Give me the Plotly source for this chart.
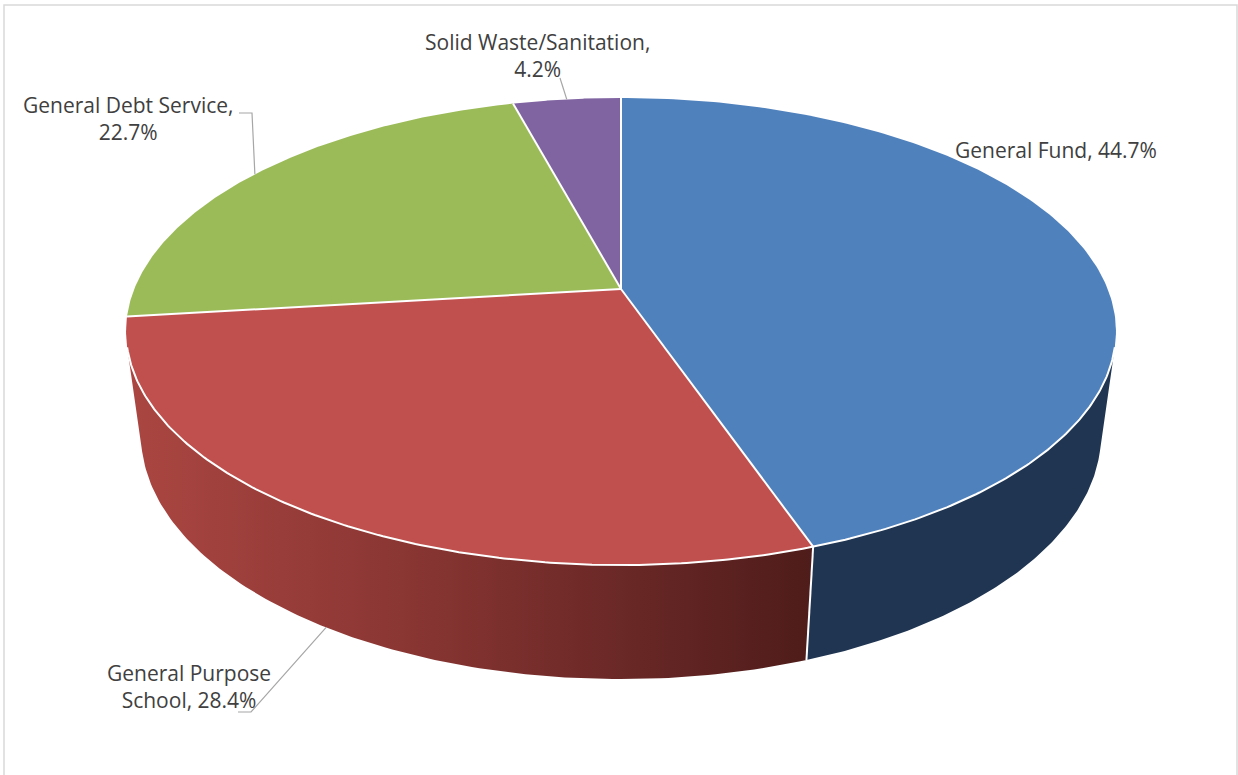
import numpy as np
import plotly.graph_objects as go

# ---------------- data ----------------
categories = ["General Fund", "General Purpose School", "General Debt Service", "Solid Waste/Sanitation"]
values = [44.7, 28.4, 22.7, 4.2]
label_breaks = ["General Fund, ", "General Purpose<br>School, ", "General Debt Service,<br>", "Solid Waste/Sanitation,<br>"]

# ---------------- style ----------------
top_colors = ["#4F81BD", "#C0504D", "#9BBB59", "#8064A2"]
side_scales = [
    [[0, "#1F3552"], [1, "#1E314D"]],
    [[0, "#AB4642"], [0.4, "#8A3633"], [0.7, "#6C2927"], [1, "#4E1C1A"]],
    [[0, "#6F8A3E"], [1, "#3E4F22"]],
    [[0, "#5C4777"], [1, "#35284A"]],
]
label_pos = [(1056, 150), (189, 686), (128, 118), (537, 55)]
leader_knee = [None, [(238, 712), (251, 712)], [(239, 113), (252, 113)], [(560, 78)]]
leader_level = [0, 1, 0, 0]
FONT = "Open Sans"
FONT_SIZE = 21
TEXT_COLOR = "#404040"

# perspective geometry of the 3-D pie (pixel space)
CX, CY = 621.0, 289.0
G, P, K, D, E = 486.7, 225.8, 0.182, -0.03, 105.0


def proj(phi_deg, level=0.0):
    phi = np.radians(phi_deg)
    x, z = np.sin(phi), np.cos(phi)
    w = 1 + K * z - D * level
    return CX + G * x / w, CY + (-P * z + E * level) / w


# visible range of the rim
zc = -E / (K * E - D * P)
vis_lo = np.degrees(np.arccos(1 / zc))
vis_hi = 360 - vis_lo

total = sum(values)
bounds = np.concatenate([[0], np.cumsum(values) / total * 360])

fig = go.Figure()

# ---- sides (rim) ----
for i in range(len(values)):
    a, b = max(bounds[i], vis_lo), min(bounds[i + 1], vis_hi)
    if b <= a:
        continue
    ph = np.linspace(a, b, 120)
    tx, ty = proj(ph, 0)
    bx, by = proj(ph[::-1], 1)
    xs = np.concatenate([tx, bx, tx[:1]])
    ys = np.concatenate([ty, by, ty[:1]])
    fig.add_trace(go.Scatter(
        x=xs, y=ys, mode="lines", line=dict(width=0), fill="toself",
        fillgradient=dict(type="horizontal", colorscale=side_scales[i],
                          start=float(xs.min()), stop=float(xs.max())) if i == 1 else None,
        fillcolor=side_scales[i][0][1] if i != 1 else None,
        hoverinfo="skip", showlegend=False))

# ---- top faces ----
for i in range(len(values)):
    ph = np.linspace(bounds[i], bounds[i + 1], 200)
    ax, ay = proj(ph, 0)
    xs = np.concatenate([[CX], ax, [CX]])
    ys = np.concatenate([[CY], ay, [CY]])
    fig.add_trace(go.Scatter(
        x=xs, y=ys, mode="lines", line=dict(width=0), fill="toself",
        fillcolor=top_colors[i], name=categories[i],
        hoverinfo="name", showlegend=False))

# ---- white edges ----
ph = np.linspace(vis_lo, vis_hi, 300)
fx, fy = proj(ph, 0)
fig.add_trace(go.Scatter(x=fx, y=fy, mode="lines", line=dict(color="#FFFFFF", width=2),
                         hoverinfo="skip", showlegend=False))
for bd in bounds[:-1]:
    ex, ey = proj(bd, 0)
    fig.add_trace(go.Scatter(x=[CX, ex], y=[CY, ey], mode="lines",
                             line=dict(color="#FFFFFF", width=2),
                             hoverinfo="skip", showlegend=False))
    if vis_lo < bd < vis_hi:
        bx, by = proj(bd, 1)
        fig.add_trace(go.Scatter(x=[ex, bx], y=[ey, by], mode="lines",
                                 line=dict(color="#FFFFFF", width=2),
                                 hoverinfo="skip", showlegend=False))

# ---- labels and leader lines ----
for i in range(len(values)):
    text = f"{label_breaks[i]}{values[i]:.1f}%"
    lx, ly = label_pos[i]
    fig.add_annotation(x=lx, y=ly, xref="x", yref="y", text=text, showarrow=False,
                       align="center", font=dict(family=FONT, size=FONT_SIZE, color=TEXT_COLOR))
    if leader_knee[i]:
        mid = (bounds[i] + bounds[i + 1]) / 2
        px, py = proj(mid, leader_level[i])
        pts = leader_knee[i] + [(px, py)]
        fig.add_trace(go.Scatter(x=[p[0] for p in pts], y=[p[1] for p in pts], mode="lines",
                                 line=dict(color="#A6A6A6", width=1.2),
                                 hoverinfo="skip", showlegend=False))

# ---- chart border ----
fig.add_shape(type="rect", x0=4, y0=5, x1=1237, y1=790, xref="x", yref="y",
              line=dict(color="#D9D9D9", width=1.5), fillcolor="rgba(0,0,0,0)")

fig.update_layout(
    width=1238, height=775, autosize=False,
    margin=dict(l=0, r=0, t=0, b=0),
    paper_bgcolor="#FFFFFF", plot_bgcolor="#FFFFFF",
    xaxis=dict(range=[0, 1238], visible=False, fixedrange=True),
    yaxis=dict(range=[775, 0], visible=False, fixedrange=True),
    showlegend=False,
)

fig.write_html("out.html", config={"displayModeBar": False},
               post_script="document.body.style.margin='0';document.body.style.overflow='hidden';")
